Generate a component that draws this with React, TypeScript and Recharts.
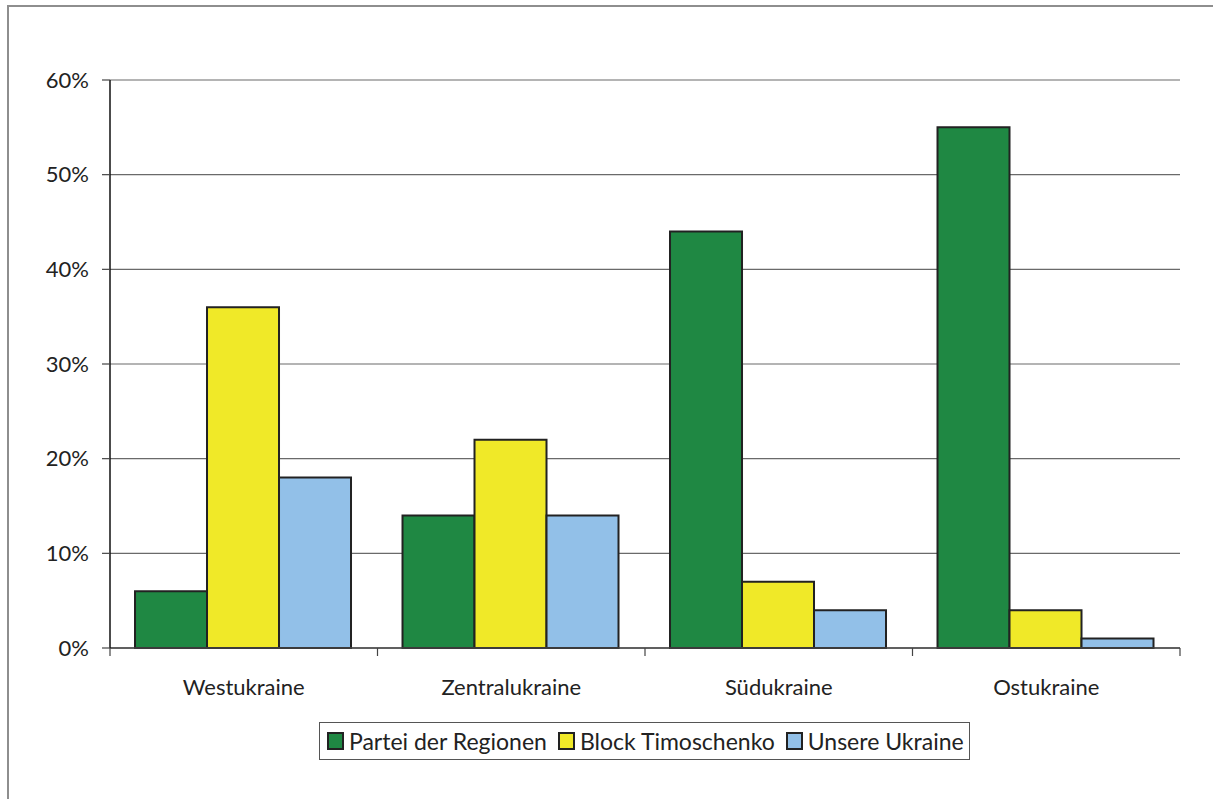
import React from 'react';
import { BarChart, Bar, XAxis, YAxis, CartesianGrid } from 'recharts';

const regions = ['Westukraine', 'Zentralukraine', 'Südukraine', 'Ostukraine'];
const parteiDerRegionen = [6, 14, 44, 55];
const blockTimoschenko = [36, 22, 7, 4];
const unsereUkraine = [18, 14, 4, 1];
const yTicks = [0, 10, 20, 30, 40, 50, 60];

const seriesNames = ['Partei der Regionen', 'Block Timoschenko', 'Unsere Ukraine'];
const seriesKeys = ['partei', 'block', 'unsere'];
const seriesColors = ['#1F8843', '#F0E928', '#92C0E8'];

const data = regions.map((r, i) => ({
  region: r,
  partei: parteiDerRegionen[i],
  block: blockTimoschenko[i],
  unsere: unsereUkraine[i],
}));

const FONT = 'Lato, "Open Sans", sans-serif';

const XTick = (props: any) => {
  const { x, y, payload, index, visibleTicksCount, width } = props;
  const half = payload && payload.offset ? payload.offset : width / (2 * (visibleTicksCount || 4));
  const last = index === (visibleTicksCount || regions.length) - 1;
  return (
    <g>
      <line x1={x - half} x2={x - half} y1={y} y2={y + 8} stroke="#444" strokeWidth={1.2} />
      {last && <line x1={x + half} x2={x + half} y1={y} y2={y + 8} stroke="#444" strokeWidth={1.2} />}
      <text x={x} y={y + 47} textAnchor="middle" fontSize={22} fill="#222" fontFamily={FONT}>
        {payload.value}
      </text>
    </g>
  );
};

export default function App() {
  return (
    <div style={{ position: 'absolute', left: 0, top: 0, width: 1213, height: 799, overflow: 'hidden', background: '#fff' }}>
      <div
        style={{
          position: 'absolute',
          left: 7,
          top: 5,
          width: 1400,
          height: 1000,
          borderLeft: '2px solid #8e8e8e',
          borderTop: '2px solid #8e8e8e',
        }}
      />
      <div style={{ position: 'absolute', left: 0, top: 0 }}>
        <BarChart
          width={1213}
          height={799}
          data={data}
          margin={{ top: 80, right: 33, left: 0, bottom: 91 }}
          barCategoryGap="9.35%"
          barGap={0}
        >
          <CartesianGrid horizontal={true} vertical={false} stroke="#6a6a6a" strokeWidth={1.2} />
          <XAxis
            dataKey="region"
            height={60}
            tickSize={0}
            tickMargin={0}
            tickLine={false}
            axisLine={{ stroke: '#444', strokeWidth: 1.5 }}
            tick={<XTick />}
            interval={0}
          />
          <YAxis
            width={110}
            domain={[0, 60]}
            ticks={yTicks}
            tickFormatter={(v: number) => `${v}%`}
            tickSize={8}
            tickMargin={13}
            axisLine={{ stroke: '#111', strokeWidth: 1.5 }}
            tickLine={{ stroke: '#444', strokeWidth: 1.2 }}
            tick={{ fontSize: 22, fill: '#222', fontFamily: FONT }}
            interval={0}
          />
          <YAxis
            yAxisId="right"
            orientation="right"
            width={0}
            tick={false}
            tickLine={false}
            axisLine={{ stroke: '#999', strokeWidth: 1.5 }}
          />
          {seriesKeys.map((k, i) => (
            <Bar
              key={k}
              dataKey={k}
              name={seriesNames[i]}
              fill={seriesColors[i]}
              stroke="#222"
              strokeWidth={2}
              isAnimationActive={false}
            />
          ))}
        </BarChart>
      </div>
      <div
        style={{
          position: 'absolute',
          left: 319,
          top: 722,
          width: 651,
          height: 38,
          boxSizing: 'border-box',
          border: '1.5px solid #555',
          display: 'flex',
          alignItems: 'center',
          justifyContent: 'flex-start',
          paddingLeft: 7,
          gap: 11,
          fontFamily: FONT,
          fontSize: 23,
          color: '#222',
          background: '#fff',
          whiteSpace: 'nowrap',
          overflow: 'hidden',
        }}
      >
        {seriesNames.map((n, i) => (
          <div key={n} style={{ display: 'flex', alignItems: 'center', gap: 5, flexShrink: 0 }}>
            <span
              style={{
                display: 'inline-block',
                width: 17,
                height: 18,
                boxSizing: 'border-box',
                border: '2px solid #222',
                background: seriesColors[i],
                flexShrink: 0,
              }}
            />
            <span>{n}</span>
          </div>
        ))}
      </div>
    </div>
  );
}
